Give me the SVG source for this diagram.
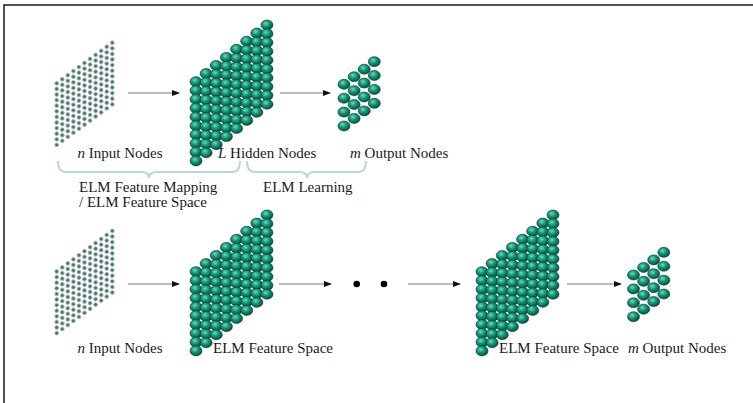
<svg xmlns="http://www.w3.org/2000/svg" xmlns:xlink="http://www.w3.org/1999/xlink" width="753" height="403" viewBox="0 0 753 403">
  <style>
    .lbl { font-family: "Liberation Serif", "Times New Roman", serif; font-size: 15px; fill: #1a1a1a; }
    .it { font-style: italic; }
    .link { stroke: #7a7a7a; stroke-width: 1.2; fill: none; marker-end: url(#head); }
    .brace { stroke: #bcd5dd; stroke-width: 2; fill: none; }
    .frame { stroke: #1a1a1a; stroke-width: 1.5; fill: none; }
  </style>
  <defs>
    <radialGradient id="bead" cx="0.4" cy="0.35" r="0.65">
      <stop offset="0" stop-color="#6fdcbc"/>
      <stop offset="0.45" stop-color="#12997a"/>
      <stop offset="1" stop-color="#06513c"/>
    </radialGradient>
    <marker id="head" viewBox="0 0 8 8" refX="7" refY="4" markerWidth="8" markerHeight="8" markerUnits="userSpaceOnUse" orient="auto">
      <path d="M0,1 L8,4 L0,7 z" fill="#111"/>
    </marker>
    <!-- small input neuron -->
    <circle id="inode" r="1.9" fill="#44766f" stroke="#b0b9b9" stroke-width="0.9"/>
    <!-- large neuron bead -->
    <ellipse id="bnode" rx="6" ry="5" fill="url(#bead)" stroke="#08372b" stroke-width="0.6"/>
    <!-- input layer: 11 columns x 12 rows -->
    <g id="icol">
      <use href="#inode" y="0"/><use href="#inode" y="5.6"/><use href="#inode" y="11.2"/><use href="#inode" y="16.8"/>
      <use href="#inode" y="22.4"/><use href="#inode" y="28"/><use href="#inode" y="33.6"/><use href="#inode" y="39.2"/>
      <use href="#inode" y="44.8"/><use href="#inode" y="50.4"/><use href="#inode" y="56"/><use href="#inode" y="61.6"/>
    </g>
    <g id="igrid">
      <use href="#icol" x="0" y="0"/><use href="#icol" x="5.56" y="-4.06"/><use href="#icol" x="11.12" y="-8.12"/>
      <use href="#icol" x="16.68" y="-12.18"/><use href="#icol" x="22.24" y="-16.24"/><use href="#icol" x="27.8" y="-20.3"/>
      <use href="#icol" x="33.36" y="-24.36"/><use href="#icol" x="38.92" y="-28.42"/><use href="#icol" x="44.48" y="-32.48"/>
      <use href="#icol" x="50.04" y="-36.54"/><use href="#icol" x="55.6" y="-40.6"/>
    </g>
    <!-- hidden layer: 8 columns x 10 rows -->
    <g id="hcol">
      <use href="#bnode" y="0"/><use href="#bnode" y="8.8"/><use href="#bnode" y="17.6"/><use href="#bnode" y="26.4"/>
      <use href="#bnode" y="35.2"/><use href="#bnode" y="44"/><use href="#bnode" y="52.8"/><use href="#bnode" y="61.6"/>
      <use href="#bnode" y="70.4"/><use href="#bnode" y="79.2"/>
    </g>
    <g id="hgrid">
      <use href="#hcol" x="0" y="0"/><use href="#hcol" x="10.14" y="-8.1"/><use href="#hcol" x="20.28" y="-16.2"/>
      <use href="#hcol" x="30.42" y="-24.3"/><use href="#hcol" x="40.56" y="-32.4"/><use href="#hcol" x="50.7" y="-40.5"/>
      <use href="#hcol" x="60.84" y="-48.6"/><use href="#hcol" x="70.98" y="-56.7"/>
    </g>
    <!-- output layer: 4 columns x 4 rows -->
    <g id="ocol">
      <use href="#bnode" y="0"/><use href="#bnode" y="13.9"/><use href="#bnode" y="27.8"/><use href="#bnode" y="41.7"/>
    </g>
    <g id="ogrid">
      <use href="#ocol" x="0" y="0"/><use href="#ocol" x="10.1" y="-7.55"/><use href="#ocol" x="20.2" y="-15.1"/><use href="#ocol" x="30.3" y="-22.65"/>
    </g>
  </defs>

  <rect width="753" height="403" fill="#ffffff"/>
  <polyline class="frame" points="4,403 4,5 753,5"/>

  <!-- single hidden layer network -->
  <g id="input-1"><use href="#igrid" x="56.7" y="83.3"/></g>
  <g id="hidden-1"><use href="#hgrid" x="196" y="81.7"/></g>
  <g id="output-1"><use href="#ogrid" x="344" y="84.3"/></g>

  <!-- multi layer network -->
  <g id="input-2"><use href="#igrid" x="56.7" y="271.5"/></g>
  <g id="hidden-2"><use href="#hgrid" x="196" y="271.7"/></g>
  <g id="hidden-3"><use href="#hgrid" x="482" y="271.7"/></g>
  <g id="output-2"><use href="#ogrid" x="633.5" y="275"/></g>

  <g id="connectors">
    <line class="link" x1="128" y1="93" x2="179" y2="93"/>
    <line class="link" x1="280" y1="93" x2="330" y2="93"/>
    <line class="link" x1="128" y1="284" x2="179" y2="284"/>
    <line class="link" x1="279" y1="284" x2="331" y2="284"/>
    <line class="link" x1="408" y1="284" x2="460" y2="284"/>
    <line class="link" x1="567" y1="284" x2="621" y2="284"/>
  </g>

  <g id="ellipsis">
    <circle cx="356.7" cy="284" r="3.3" fill="#000"/>
    <circle cx="384" cy="284" r="3.3" fill="#000"/>
  </g>

  <g id="braces">
    <path class="brace" d="M58,161 Q58,172 66,172 L141,172 Q149,172 149,178 Q149,172 157,172 L232,172 Q240,172 240,161"/>
    <path class="brace" d="M247,161 Q247,172 255,172 L299,172 Q307,172 307,178 Q307,172 315,172 L358,172 Q366,172 366,161"/>
  </g>

  <g id="labels">
    <text class="lbl" x="77.5" y="158"><tspan class="it">n</tspan> Input Nodes</text>
    <text class="lbl" x="218" y="158"><tspan class="it">L</tspan> Hidden Nodes</text>
    <text class="lbl" x="350" y="158"><tspan class="it">m</tspan> Output Nodes</text>
    <text class="lbl" x="79" y="192">ELM Feature Mapping</text>
    <text class="lbl" x="79" y="207">/ ELM Feature Space</text>
    <text class="lbl" x="263" y="192">ELM Learning</text>
    <text class="lbl" x="77.5" y="353"><tspan class="it">n</tspan> Input Nodes</text>
    <text class="lbl" x="213" y="353">ELM Feature Space</text>
    <text class="lbl" x="499" y="353">ELM Feature Space</text>
    <text class="lbl" x="628" y="353"><tspan class="it">m</tspan> Output Nodes</text>
  </g>
</svg>
